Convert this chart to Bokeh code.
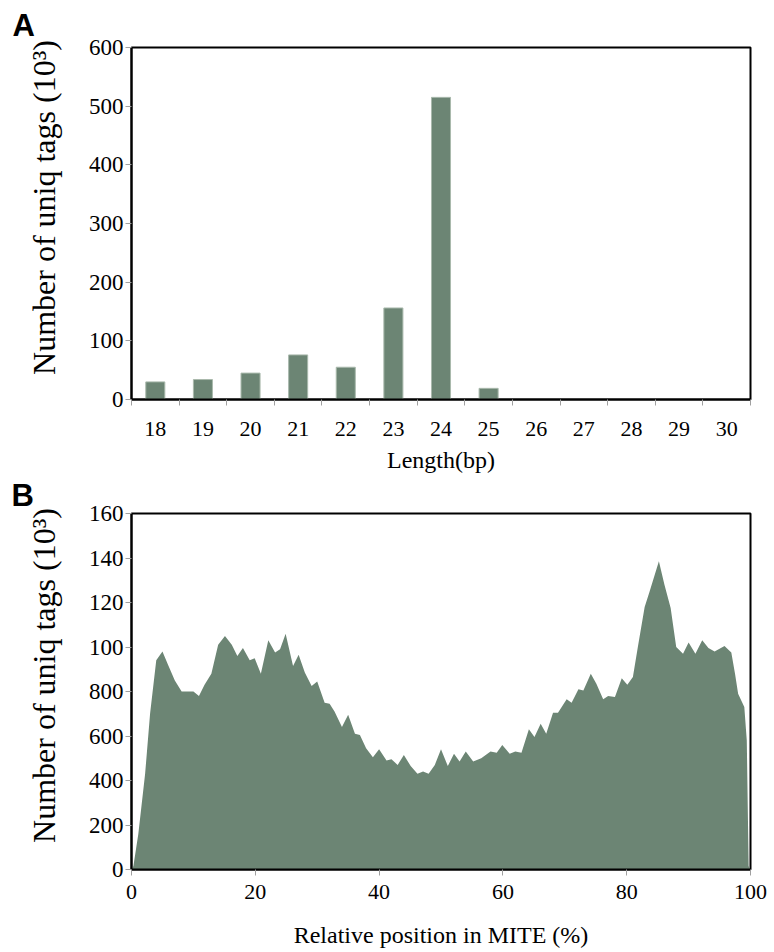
from bokeh.plotting import figure
from bokeh.layouts import column
from bokeh.models import Range1d, FixedTicker, Title
from bokeh.embed import file_html
from bokeh.resources import INLINE

# ---- Panel A data ----
lengths = [18, 19, 20, 21, 22, 23, 24, 25, 26, 27, 28, 29, 30]
uniq_tags_k = [30, 34, 45, 76, 55, 156, 515, 19, 0, 0, 0, 0, 0]
y_ticks_a = [0, 100, 200, 300, 400, 500, 600]

# ---- Panel B data ----
rel_pos = [0, 0.3, 1.1, 2.2, 3.0, 4.0, 5.0, 5.9, 7.0, 8.1, 10.0, 10.9, 11.8, 12.9, 14.0,
           15.1, 16.2, 17.1, 18.0, 19.1, 19.9, 20.9, 22.1, 23.2, 24.0, 24.9, 26.1, 27.0,
           28.0, 29.1, 30.0, 31.2, 32.0, 32.8, 34.0, 35.0, 36.1, 36.9, 37.9, 39.0, 40.0,
           41.2, 42.0, 43.0, 44.0, 45.1, 46.2, 47.1, 48.0, 49.0, 50.0, 51.1, 52.1, 53.0,
           54.0, 55.2, 56.5, 58.0, 59.0, 59.9, 61.1, 62.0, 63.0, 64.2, 65.1, 66.1, 67.0,
           68.1, 68.9, 70.3, 71.1, 72.2, 73.0, 74.2, 75.1, 76.2, 77.0, 78.1, 79.2, 80.1,
           81.0, 81.8, 82.9, 83.7, 85.2, 86.1, 87.1, 88.0, 89.1, 90.0, 91.1, 92.2, 93.2,
           94.2, 95.8, 96.9, 97.5, 98.0, 99.0, 99.4, 99.7, 100]
tags_k = [0, 1.5, 16, 43, 70, 94, 98, 92, 85, 80, 80, 78, 83, 88, 101,
          105, 101, 96, 99.5, 94, 95, 88, 103, 97.5, 99, 106, 91.5, 96.5,
          88.5, 82.5, 84.5, 75, 74.5, 71, 64, 69.5, 61, 60.5, 54.5, 50.5, 54,
          49, 49.5, 47, 51.5, 46.5, 43, 44, 43, 47, 54, 46.5, 52, 48.5,
          53, 48.5, 50, 53, 52.5, 56, 52, 53, 52.5, 63, 59.5, 65.5, 61,
          70.5, 70.5, 76.5, 75, 81, 80.5, 88, 83.5, 76.5, 78, 77.5, 86, 83,
          86.5, 100, 118, 125, 138.5, 128, 117.5, 100, 97, 102, 97, 103, 99.5,
          98, 100.5, 97.5, 88, 79, 73, 58, 1.5, 0]
y_ticks_b = [0, 20, 40, 60, 80, 100, 120, 140, 160]
y_labels_b = {0: "0", 20: "200", 40: "400", 60: "600", 80: "800",
              100: "100", 120: "120", 140: "140", 160: "160"}

FILL = "#6c8574"
SERIF = "Liberation Serif"
TICK_GRAY = "#a0a0a0"
Y_TITLE = "\u00a0" * 4 + "Number of uniq tags (10³)"


def style(p):
    p.xgrid.visible = False
    p.ygrid.visible = False
    p.outline_line_color = "black"
    p.outline_line_width = 2
    p.outline_line_alpha = 1
    for ax in (p.xaxis[0], p.yaxis[0]):
        ax.axis_line_color = "black"
        ax.axis_line_width = 2
        ax.major_tick_line_color = TICK_GRAY
        ax.minor_tick_line_color = TICK_GRAY
        ax.major_tick_in = 0
        ax.major_tick_out = 6
        ax.minor_tick_in = 0
        ax.minor_tick_out = 0
        ax.major_label_text_font = SERIF
        ax.major_label_text_color = "black"
        ax.axis_label_text_font = SERIF
        ax.axis_label_text_font_style = "normal"
        ax.axis_label_text_color = "black"
    p.yaxis[0].major_label_text_font_size = "23px"
    p.xaxis[0].major_label_text_font_size = "22px"
    p.yaxis[0].axis_label_text_font_size = "32px"
    p.xaxis[0].axis_label_text_font_size = "24px"
    p.yaxis[0].major_label_standoff = 2
    p.yaxis[0].axis_label_standoff = 24


def panel_title(text, offset, standoff):
    return Title(text=text, align="left", offset=offset, standoff=standoff,
                 text_font="Liberation Sans", text_font_style="bold",
                 text_font_size="31px", text_color="black")


# ---- Panel A ----
pa = figure(width=770, height=475, output_backend="svg", toolbar_location=None,
            x_range=Range1d(17.5, 30.5), y_range=Range1d(0, 600),
            min_border_left=130, min_border_right=15, min_border_top=47, min_border_bottom=75,
            title=panel_title("A", -119, 10))
pa.vbar(x=lengths, top=uniq_tags_k, width=0.4, fill_color=FILL,
        line_color="#a9b9ac", line_width=1)
style(pa)
pa.xaxis[0].ticker = FixedTicker(ticks=lengths,
                                 minor_ticks=[v - 0.5 for v in lengths] + [lengths[-1] + 0.5])
pa.xaxis[0].major_tick_out = 0
pa.xaxis[0].minor_tick_out = 6
pa.xaxis[0].major_label_standoff = 16
pa.xaxis[0].axis_label_standoff = 8
pa.yaxis[0].ticker = FixedTicker(ticks=y_ticks_a)
pa.xaxis[0].axis_label = "Length(bp)"
pa.yaxis[0].axis_label = Y_TITLE

# ---- Panel B ----
pb = figure(width=770, height=475, output_backend="svg", toolbar_location=None,
            x_range=Range1d(0, 100), y_range=Range1d(0, 160),
            min_border_left=131, min_border_right=20, min_border_top=37, min_border_bottom=80,
            title=panel_title("B", -120, 1))
pb.varea(x=rel_pos, y1=0, y2=tags_k, fill_color=FILL)
style(pb)
pb.xaxis[0].ticker = FixedTicker(ticks=[0, 20, 40, 60, 80, 100])
pb.xaxis[0].major_label_standoff = 9
pb.xaxis[0].axis_label_standoff = 20
pb.yaxis[0].ticker = FixedTicker(ticks=y_ticks_b)
pb.yaxis[0].major_label_overrides = y_labels_b
pb.xaxis[0].axis_label = "Relative position in MITE (%)"
pb.yaxis[0].axis_label = Y_TITLE

layout = column(pa, pb, spacing=0)
open("out.html", "w").write(file_html(layout, INLINE))
